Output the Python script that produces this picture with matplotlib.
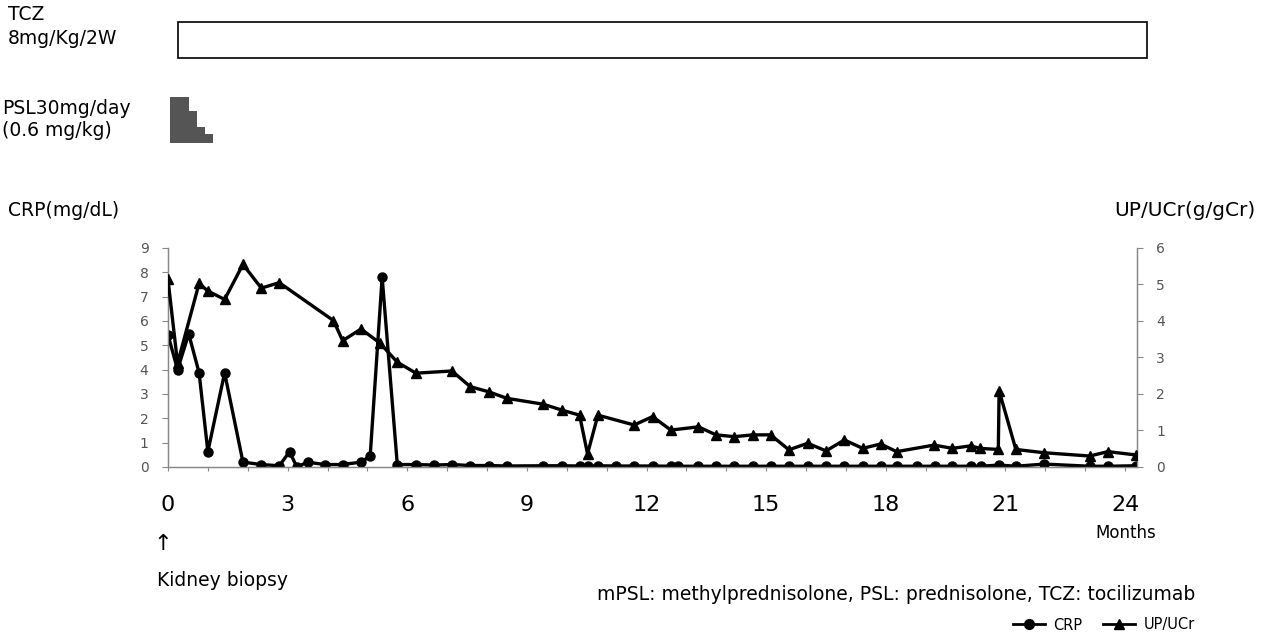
import matplotlib
matplotlib.use("Agg")
import matplotlib.pyplot as plt
import matplotlib.transforms as mtransforms
from matplotlib.lines import Line2D
from matplotlib.patches import Rectangle, Polygon

# CRP (mg/dL), left axis
crp_month = [0.00, 0.24, 0.52, 0.78, 1.00, 1.42, 1.88, 2.34, 2.79, 3.05, 3.23, 3.50,
             3.93, 4.38, 4.84, 5.07, 5.37, 5.75, 6.22, 6.67, 7.13, 7.58, 8.04, 8.50,
             9.41, 9.87, 10.32, 10.52, 10.78, 11.24, 11.69, 12.15, 12.61, 12.80, 13.30,
             13.74, 14.20, 14.66, 15.11, 15.57, 16.04, 16.50, 16.96, 17.42, 17.87, 18.27,
             18.77, 19.23, 19.67, 20.13, 20.38, 20.84, 21.26, 21.97, 23.11, 23.57, 24.27]
crp_value = [5.43, 4.0, 5.47, 3.87, 0.63, 3.87, 0.2, 0.1, 0.05, 0.63, 0.0, 0.2,
             0.1, 0.1, 0.2, 0.45, 7.8, 0.1, 0.1, 0.08, 0.1, 0.06, 0.06, 0.04,
             0.05, 0.05, 0.04, 0.03, 0.05, 0.04, 0.04, 0.04, 0.03, 0.03, 0.03,
             0.03, 0.03, 0.03, 0.03, 0.03, 0.03, 0.03, 0.03, 0.03, 0.03, 0.03,
             0.03, 0.03, 0.03, 0.03, 0.03, 0.08, 0.03, 0.12, 0.03, 0.03, 0.05]

# UP/UCr (g/gCr), right axis
up_month = [0.00, 0.24, 0.78, 1.00, 1.42, 1.88, 2.34, 2.79, 4.15, 4.38, 4.84, 5.32,
            5.75, 6.22, 7.12, 7.58, 8.04, 8.50, 9.41, 9.87, 10.32, 10.52, 10.78, 11.69,
            12.15, 12.61, 13.30, 13.74, 14.20, 14.66, 15.11, 15.57, 16.04, 16.50, 16.96,
            17.42, 17.87, 18.27, 19.21, 19.67, 20.13, 20.36, 20.82, 20.84, 21.26, 21.97,
            23.11, 23.57, 24.27]
up_value = [5.14, 2.84, 5.03, 4.82, 4.59, 5.55, 4.9, 5.05, 4.01, 3.46, 3.78, 3.39,
            2.87, 2.57, 2.63, 2.2, 2.06, 1.88, 1.72, 1.56, 1.42, 0.36, 1.42, 1.15,
            1.38, 1.01, 1.10, 0.88, 0.83, 0.88, 0.88, 0.47, 0.65, 0.44, 0.74,
            0.51, 0.63, 0.42, 0.60, 0.51, 0.58, 0.51, 0.48, 2.09, 0.48, 0.39,
            0.30, 0.42, 0.33]

# treatment bars (months)
tcz_span = (0.26, 24.54)
psl_edges = [0.06, 0.53, 0.73, 0.93, 1.14]
psl_levels = [1.0, 0.7, 0.35, 0.18]   # relative dose of each taper step

month_labels = [0, 3, 6, 9, 12, 15, 18, 21, 24]

GRAY = "#555555"

fig = plt.figure(figsize=(12.63, 6.35), dpi=100)
ax = fig.add_axes([0.133, 0.2646, 0.767, 0.3449])
ax2 = ax.twinx()

ax.plot(crp_month, crp_value, color="black", lw=2.4, marker="o", ms=6.5, zorder=3)
ax2.plot(up_month, up_value, color="black", lw=2.4, marker="^", ms=6.5, zorder=3)

ax.set_xlim(0, 24.29)
ax.set_ylim(0, 9)
ax2.set_ylim(0, 6)
ax.set_yticks(range(0, 10))
ax2.set_yticks(range(0, 7))

ax.set_xticks(range(0, 25))
ax.set_xticklabels([str(m) if m in month_labels else "" for m in range(25)], fontsize=16)
ax.tick_params(axis="x", length=3, width=0.8, color="#888888", pad=17)
ax.tick_params(axis="y", length=4, width=0.8, color="#888888", labelcolor=GRAY, labelsize=10, pad=10)
ax2.tick_params(axis="y", length=4, width=0.8, color="#888888", labelcolor=GRAY, labelsize=10, pad=10)

for a in (ax, ax2):
    a.spines["top"].set_visible(False)
    for s in ("left", "right", "bottom"):
        a.spines[s].set_color("#888888")
        a.spines[s].set_linewidth(0.9)

# treatment bars drawn above the chart, x in months
trans = mtransforms.blended_transform_factory(ax.transData, fig.transFigure)
tcz_box = Rectangle((tcz_span[0], 1 - 58 / 635), tcz_span[1] - tcz_span[0], 36 / 635,
                    transform=trans, fill=False, edgecolor="black", lw=1.2, clip_on=False)
fig.add_artist(tcz_box)

psl_bottom = 1 - 142.7 / 635
psl_height = 46 / 635
pts = [(psl_edges[0], psl_bottom)]
for i, lev in enumerate(psl_levels):
    pts.append((psl_edges[i], psl_bottom + lev * psl_height))
    pts.append((psl_edges[i + 1], psl_bottom + lev * psl_height))
pts.append((psl_edges[-1], psl_bottom))
fig.add_artist(Polygon(pts, closed=True, transform=trans, facecolor="#555555",
                       edgecolor="none", clip_on=False))

fs = 13.5
fig.text(8 / 1263, 1 - 14 / 635, "TCZ", fontsize=fs, va="center")
fig.text(8 / 1263, 1 - 39 / 635, "8mg/Kg/2W", fontsize=fs, va="center")
fig.text(2 / 1263, 1 - 108 / 635, "PSL30mg/day", fontsize=fs, va="center")
fig.text(2 / 1263, 1 - 131 / 635, "(0.6 mg/kg)", fontsize=fs, va="center")

fig.text(8 / 1263, 1 - 211 / 635, "CRP(mg/dL)", fontsize=fs, va="center")
fig.text(1255 / 1263, 1 - 211 / 635, "UP/UCr(g/gCr)", fontsize=14.5, va="center", ha="right")
fig.text(1126 / 1263, 1 - 533 / 635, "Months", fontsize=12, va="center", ha="center")
fig.text(163 / 1263, 1 - 544 / 635, "\u2191", fontsize=16, va="center", ha="center")
fig.text(157 / 1263, 1 - 581 / 635, "Kidney biopsy", fontsize=fs, va="center")
fig.text(1195 / 1263, 1 - 594 / 635,
         "mPSL: methylprednisolone, PSL: prednisolone, TCZ: tocilizumab",
         fontsize=fs, va="center", ha="right")

handles = [Line2D([], [], color="black", lw=2, marker="o", ms=7),
           Line2D([], [], color="black", lw=2, marker="^", ms=7)]
fig.legend(handles, ["CRP", "UP/UCr"], loc="center right", ncol=2, frameon=False,
           bbox_to_anchor=(1195 / 1263, 1 - 625 / 635), fontsize=10.5,
           handlelength=2.2, columnspacing=1.4, handletextpad=0.6,
           borderaxespad=0, borderpad=0)

fig.savefig("out.png", dpi=100)
